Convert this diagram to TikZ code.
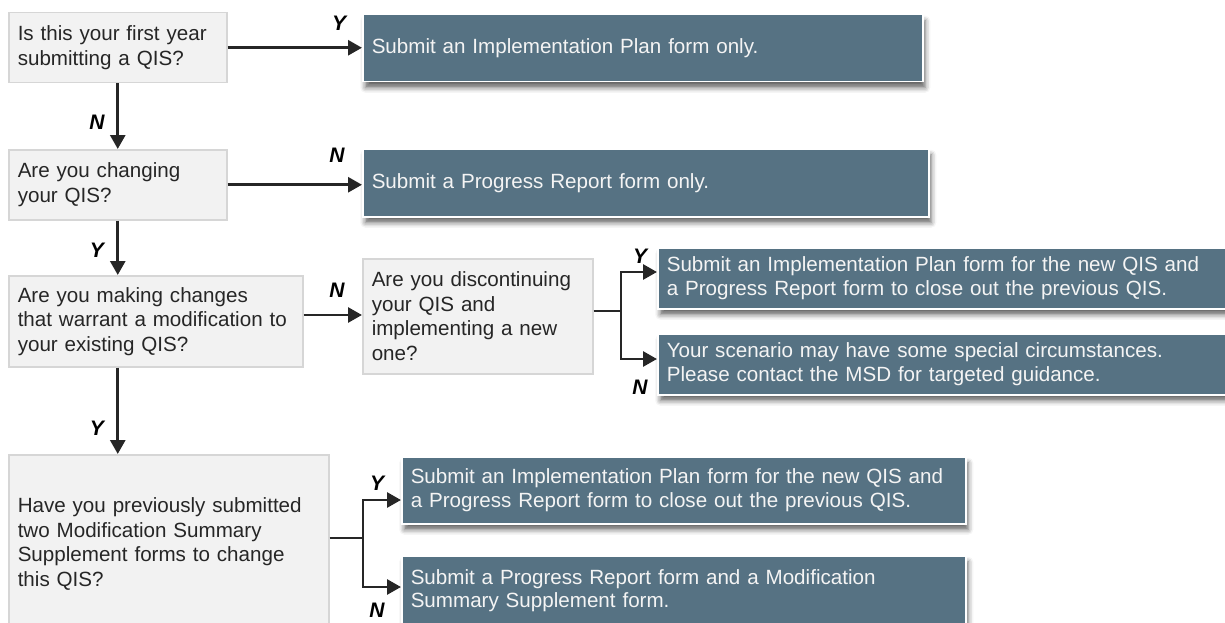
\documentclass[tikz,border=0pt]{standalone}
\usepackage{fontspec}
\setmainfont{Liberation Sans}
\usetikzlibrary{arrows.meta,shadows.blur}
\definecolor{qfill}{HTML}{F2F2F2}
\definecolor{qdraw}{HTML}{D6D6D6}
\definecolor{afill}{HTML}{567283}
\definecolor{lnc}{HTML}{262626}
\definecolor{qtext}{HTML}{262626}
\definecolor{atext}{HTML}{F4F4F4}
\begin{document}
\begin{tikzpicture}[x=1pt,y=-1pt,
  qbox/.style={draw=qdraw, fill=qfill, line width=1.5pt, rectangle, anchor=north west,
    align=left, inner xsep=9pt, inner ysep=0pt, text=qtext,
    font=\fontsize{20.6}{24.5}\selectfont},
  abox/.style={draw=white, fill=afill, line width=1.5pt, rectangle, anchor=north west,
    align=left, inner xsep=9pt, inner ysep=0pt, text=atext,
    font=\fontsize{20.6}{23.5}\selectfont,
    blur shadow={shadow xshift=2.5pt, shadow yshift=-6pt, shadow blur radius=5pt, shadow opacity=60}},
  lab/.style={font=\fontsize{21}{21}\selectfont\bfseries\itshape, inner sep=0pt, text=black},
  arr/.style={draw=lnc, line width=2.8pt, -{Triangle[length=14pt,width=15pt]}},
  ln/.style={draw=lnc, line width=2.8pt}]
\useasboundingbox (0,0) rectangle (1225,623);
\clip (0,0) rectangle (1225,623);

% question boxes
\node[qbox, text width=200pt, minimum height=70pt] (Q1) at (8,12) {Is this your first year\\submitting a QIS?};
\node[qbox, text width=200pt, minimum height=70pt] (Q2) at (8,149) {Are you changing\\your QIS?};
\node[qbox, text width=276pt, minimum height=91pt] (Q3) at (8,275) {Are you making changes\\that warrant a modification to\\your existing QIS?};
\node[qbox, text width=212pt, minimum height=115pt] (Q4) at (362,258) {Are you discontinuing\\your QIS and\\implementing a new\\one?};
\node[qbox, text width=302pt, minimum height=178pt] (Q5) at (8,454) {Have you previously submitted\\two Modification Summary\\Supplement forms to change\\this QIS?};

% answer boxes
\node[abox, text width=542pt, minimum height=67pt] (A1) at (362,14) {Submit an Implementation Plan form only.};
\node[abox, text width=548pt, minimum height=68pt] (A2) at (362,148) {Submit a Progress Report form only.};
\node[abox, text width=562pt, minimum height=61pt] (A3) at (657,247) {Submit an Implementation Plan form for the new QIS and\\a Progress Report form to close out the previous QIS.};
\node[abox, text width=562pt, minimum height=61pt] (A4) at (657,333) {Your scenario may have some special circumstances.\\Please contact the MSD for targeted guidance.};
\node[abox, text width=546pt, minimum height=67pt] (A5) at (401,456) {Submit an Implementation Plan form for the new QIS and\\a Progress Report form to close out the previous QIS.};
\node[abox, text width=546pt, minimum height=70pt] (A6) at (401,555) {Submit a Progress Report form and a Modification\\Summary Supplement form.};

% connectors
\draw[arr] (Q1.east) -- (Q1.east -| A1.west);
\draw[arr] (Q1.south) -- (Q2.north);
\draw[arr] (Q2.east) -- (Q2.east -| A2.west);
\draw[arr] (Q2.south) -- (Q3.north -| Q2.south);
\coordinate (c3) at (0,315);
\draw[arr] (Q3.east |- c3) -- (Q4.west |- c3);
\draw[arr] (Q3.south -| Q1) -- (Q5.north -| Q1);

\coordinate (s1) at (621,311);
\coordinate (s1a) at (621,272);
\coordinate (s1b) at (621,359);
\draw[ln] (Q4.east |- s1) -- (s1);
\draw[arr] (s1) -- (s1a) -- (s1a -| A3.west);
\draw[arr] (s1) -- (s1b) -- (s1b -| A4.west);

\coordinate (s2) at (363,538);
\coordinate (s2a) at (363,500);
\coordinate (s2b) at (363,587);
\draw[ln] (Q5.east |- s2) -- (s2);
\draw[arr] (s2) -- (s2a) -- (s2a -| A5.west);
\draw[arr] (s2) -- (s2b) -- (s2b -| A6.west);

% labels
\node[lab] (l1) at (339,23) {Y};
\node[lab] (l2) at (97,122) {N};
\node[lab] (l3) at (337,155) {N};
\node[lab] (l4) at (97,250) {Y};
\node[lab] (l5) at (337,290) {N};
\node[lab] (l6) at (640,256) {Y};
\node[lab] (l7) at (640,387) {N};
\node[lab] (l8) at (97,428) {Y};
\node[lab] (l9) at (377,483) {Y};
\node[lab] (l10) at (377,610) {N};
\end{tikzpicture}
\end{document}
